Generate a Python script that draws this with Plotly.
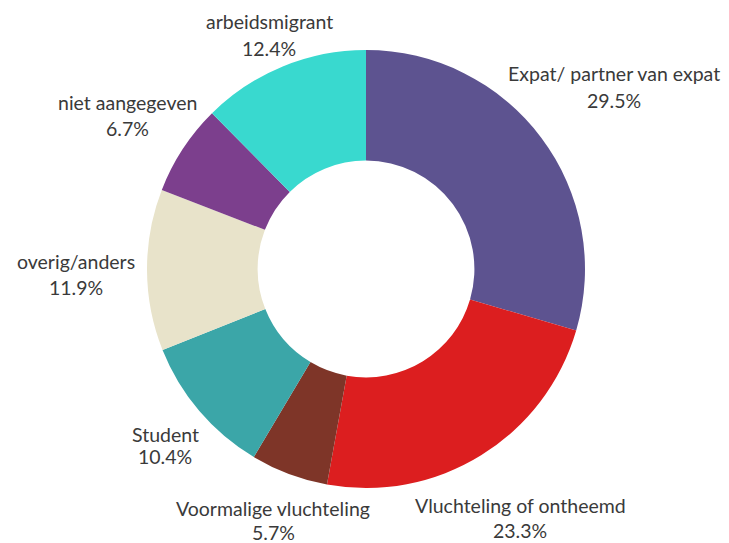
import plotly.graph_objects as go

categories = ["Expat/ partner van expat", "Vluchteling of ontheemd", "Voormalige vluchteling",
              "Student", "overig/anders", "niet aangegeven", "arbeidsmigrant"]
values = [29.5, 23.3, 5.7, 10.4, 11.9, 6.7, 12.4]
colors = ["#5D5390", "#DC1E1F", "#7E3528", "#3BA6A8", "#E8E3CA", "#7C3F8D", "#39D9CF"]

# label positions (pixel centres of name line and percentage line)
label_pos = {
    "Expat/ partner van expat": (614, 74, 101),
    "Vluchteling of ontheemd": (520, 505, 530),
    "Voormalige vluchteling": (273, 508, 532),
    "Student": (165, 434, 456),
    "overig/anders": (76, 261, 287),
    "niet aangegeven": (128, 103, 129),
    "arbeidsmigrant": (269, 21, 48),
}

W, H = 729, 543
cx, cy, R = 366, 269, 219

fig = go.Figure(go.Pie(
    labels=categories, values=values, sort=False, direction="clockwise",
    rotation=0, hole=0.495, textinfo="none", hoverinfo="label+percent",
    marker=dict(colors=colors, line=dict(width=0)),
    domain=dict(x=[(cx - R) / W, (cx + R) / W], y=[(H - cy - R) / H, (H - cy + R) / H]),
    showlegend=False,
))

font = dict(family="Lato, sans-serif", size=19.5, color="#3a3a3a")
anns = []
for cat, v in zip(categories, values):
    x, y1, y2 = label_pos[cat]
    anns.append(dict(text=cat, x=x / W, y=1 - y1 / H, xref="paper", yref="paper",
                     xanchor="center", yanchor="middle", showarrow=False, font=font))
    anns.append(dict(text=f"{v}%", x=x / W, y=1 - y2 / H, xref="paper", yref="paper",
                     xanchor="center", yanchor="middle", showarrow=False, font=font))

fig.update_layout(width=W, height=H, margin=dict(l=0, r=0, t=0, b=0),
                  paper_bgcolor="white", plot_bgcolor="white", annotations=anns)
fig.write_html("out.html", config={"displayModeBar": False},
               post_script="document.body.style.margin='0';document.body.style.overflow='hidden';")
